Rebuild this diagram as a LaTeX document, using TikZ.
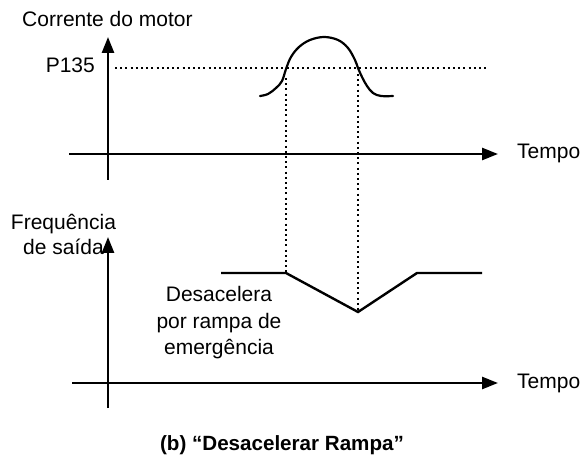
\documentclass[tikz,border=0pt]{standalone}
\usepackage{fontspec}
\setmainfont{Liberation Sans}
\usetikzlibrary{arrows.meta}
\begin{document}
\begin{tikzpicture}[x=1pt,y=-1pt,
  axisline/.style={line width=2.6pt,-{Triangle[length=16pt,width=12pt]}},
  curveline/.style={line width=2.2pt,line join=round,line cap=round},
  freqline/.style={line width=2.4pt,line join=miter},
  dotline/.style={line width=1.7pt,dash pattern=on 2pt off 3.2pt},
  lbl/.style={inner sep=0pt,font=\fontsize{21}{25}\selectfont},
  captext/.style={inner sep=0pt,font=\fontsize{20.6}{22}\selectfont\bfseries}]
\useasboundingbox (0,0) rectangle (581,462);
% top chart
\coordinate (t0) at (108,180);
\coordinate (t1) at (108,37);
\coordinate (h0) at (69,154);
\coordinate (h1) at (498,154);
\draw[axisline] (t0) -- (t1);
\draw[axisline] (h0) -- (h1);
\coordinate (p0) at (115,68);
\coordinate (p1) at (487,68);
\draw[dotline] (p0) -- (p1);
\draw[curveline] plot[smooth,tension=0.6] coordinates {(260,96) (268,94) (276,88) (282,81) (286,69) (291,57) (299,47) (310,40) (324,37) (338,40) (348,48) (355,60) (358,68) (362,77) (367,86) (373,93) (381,96) (393,96)};
% bottom chart
\coordinate (b0) at (108,408);
\coordinate (b1) at (108,237);
\coordinate (g0) at (72,383);
\coordinate (g1) at (498,383);
\draw[axisline] (b0) -- (b1);
\draw[axisline] (g0) -- (g1);
\coordinate (f0) at (221,273);
\coordinate (f1) at (286,273);
\coordinate (f2) at (358,312);
\coordinate (f3) at (417,273);
\coordinate (f4) at (482,273);
\draw[freqline] (f0) -- (f1) -- (f2) -- (f3) -- (f4);
\coordinate (d1) at (286,78);
\coordinate (d2) at (358,74);
\draw[dotline] (d1) -- (f1);
\draw[dotline] (d2) -- (f2);
% labels
\node[lbl,anchor=base west] (lc) at (22,27) {Corrente do motor};
\node[lbl,anchor=base east] (lp) at (95,73) {P135};
\node[lbl,anchor=base west] (lt1) at (517,159) {Tempo};
\node[lbl,anchor=base west] (lt2) at (517,388) {Tempo};
\node[lbl,anchor=base,align=center] (lf) at (63.5,255) {Frequência\\de saída};
\node[lbl,anchor=base,align=center,font=\fontsize{21}{26}\selectfont] (ld) at (219,354) {Desacelera\\por rampa de\\emergência};
\node[captext,anchor=base] (lcap) at (282,450) {(b) “Desacelerar Rampa”};
\end{tikzpicture}
\end{document}
